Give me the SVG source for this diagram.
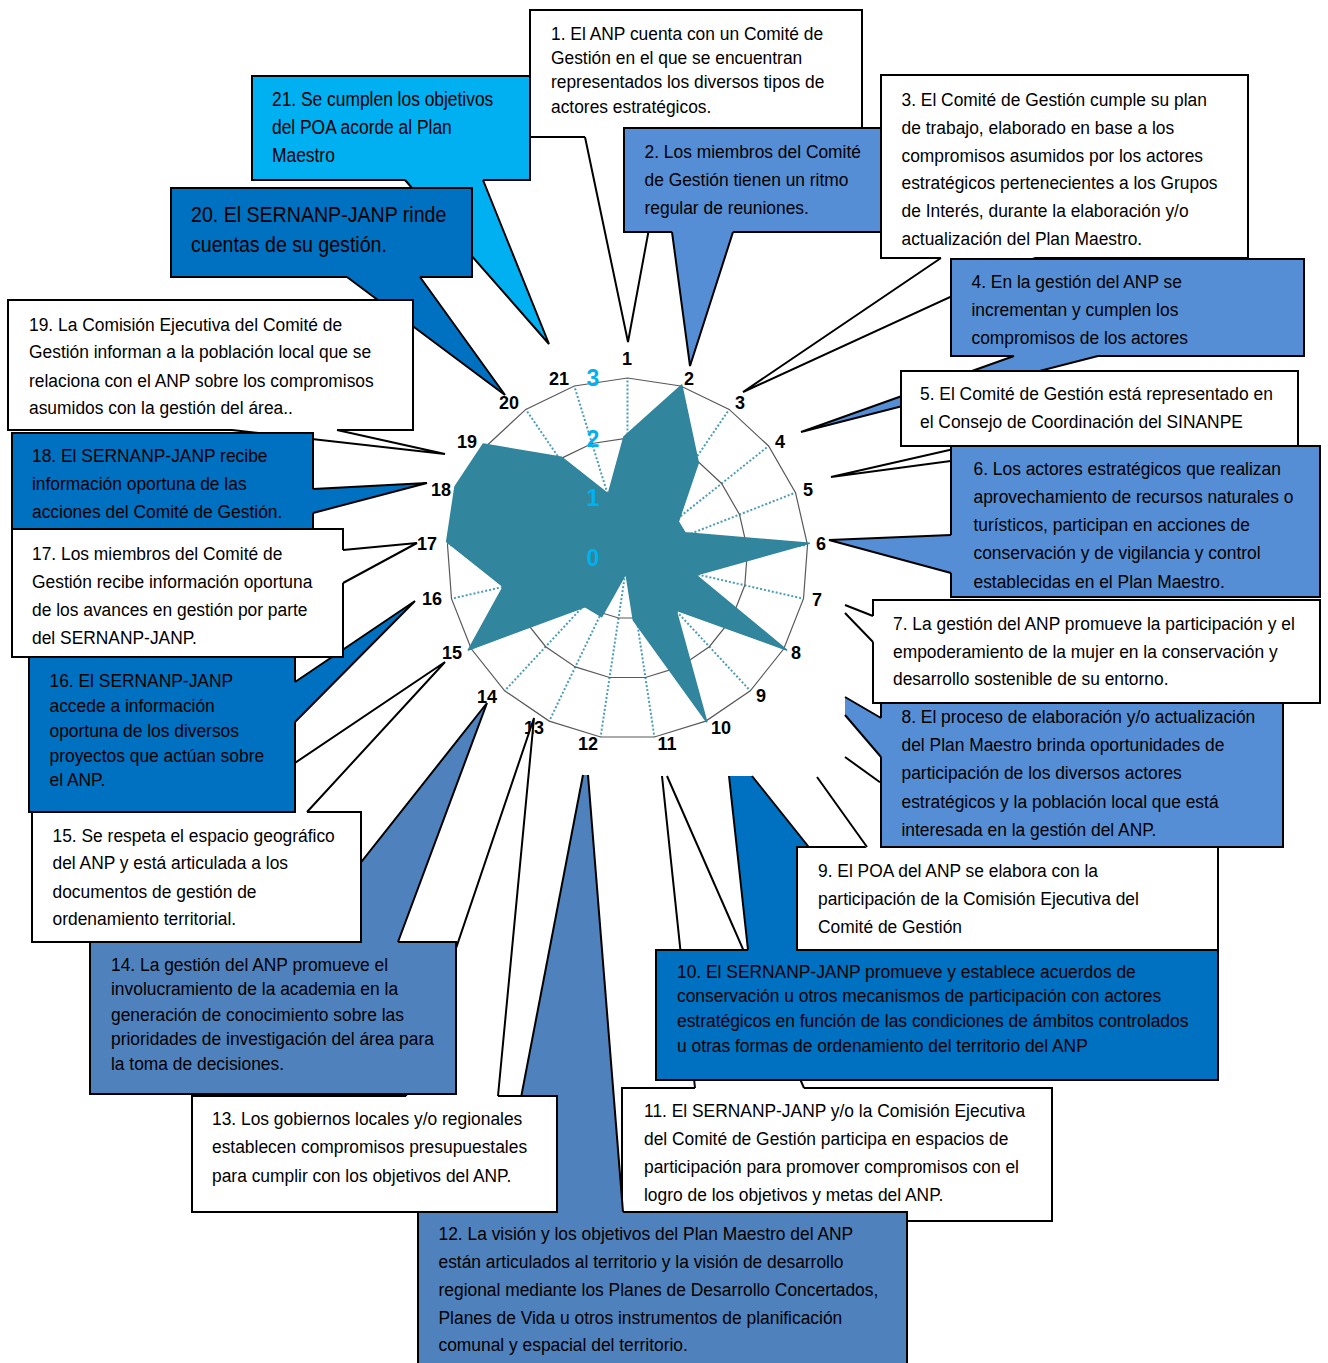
<svg xmlns="http://www.w3.org/2000/svg" width="1328" height="1363" viewBox="0 0 1328 1363">
<style>
.bx{stroke:#000;stroke-width:2}
.wf{stroke:none}
.wl{fill:none;stroke:#000;stroke-width:2}
.w{fill:#fff}.c1{fill:#558ED5}.c2{fill:#0070C0}.c3{fill:#4F81BD}.c4{fill:#00B0F0}
.t{font-family:"Liberation Sans",Arial,sans-serif;font-size:19px;fill:#000}
.al{font-family:"Liberation Sans",Arial,sans-serif;font-size:18px;font-weight:bold;fill:#000;text-anchor:middle}
.vl{font-family:"Liberation Sans",Arial,sans-serif;font-size:23px;font-weight:bold;fill:#00B0F0;text-anchor:middle}
.ring{fill:none;stroke:#595959;stroke-width:1.2}
.spoke{fill:none;stroke:#4A9DB5;stroke-width:2;stroke-dasharray:2 2}
</style>
<rect width="1328" height="1363" fill="#fff"/>
<g id="chart">
<path class="spoke" d="M627.5 558.5L627.5 378M627.5 558.5L680.7 386M627.5 558.5L729.2 409.4M627.5 558.5L768.6 446M627.5 558.5L795.5 492.6M627.5 558.5L807.5 545M627.5 558.5L803.5 598.7M627.5 558.5L783.8 648.8M627.5 558.5L750.3 690.8M627.5 558.5L705.8 721.1M627.5 558.5L654.4 737M627.5 558.5L600.6 737M627.5 558.5L549.2 721.1M627.5 558.5L504.7 690.8M627.5 558.5L471.2 648.8M627.5 558.5L451.5 598.7M627.5 558.5L447.5 545M627.5 558.5L459.5 492.6M627.5 558.5L486.4 446M627.5 558.5L525.8 409.4M627.5 558.5L574.3 386"/>
<polygon class="ring" points="627.5,498.3 645.2,501.0 661.4,508.8 674.5,521.0 683.5,536.5 687.5,554.0 686.2,571.9 679.6,588.6 668.4,602.6 653.6,612.7 636.5,618.0 618.5,618.0 601.4,612.7 586.6,602.6 575.4,588.6 568.8,571.9 567.5,554.0 571.5,536.5 580.5,521.0 593.6,508.8 609.8,501.0"/>
<polygon class="ring" points="627.5,438.2 663.0,443.5 695.3,459.1 721.6,483.5 739.5,514.5 747.5,549.5 744.8,585.3 731.7,618.7 709.3,646.7 679.7,666.9 645.4,677.5 609.6,677.5 575.3,666.9 545.7,646.7 523.3,618.7 510.2,585.3 507.5,549.5 515.5,514.5 533.4,483.5 559.7,459.1 592.0,443.5"/>
<polygon class="ring" points="627.5,378.0 680.7,386.0 729.2,409.4 768.6,446.0 795.5,492.6 807.5,545.0 803.5,598.7 783.8,648.8 750.3,690.8 705.8,721.1 654.4,737.0 600.6,737.0 549.2,721.1 504.7,690.8 471.2,648.8 451.5,598.7 447.5,545.0 459.5,492.6 486.4,446.0 525.8,409.4 574.3,386.0"/>
<polygon fill="#31859C" stroke="#31859C" stroke-width="1.5" stroke-linejoin="round" points="624,436.7 681.7,385 698.3,462.7 678.3,521.7 685,532.7 809.3,543.3 696,575 786.7,650 676,610 706.7,721.7 633.3,620 626,573.3 601.7,616.7 585,606.7 468.3,650 503.3,586.7 446.7,541.7 455,486.7 483.3,444 561.7,457.3 608.3,494"/>
<text class="vl" x="593" y="386">3</text>
<text class="vl" x="593" y="447">2</text>
<text class="vl" x="593" y="506">1</text>
<text class="vl" x="593" y="566">0</text>
<text class="al" x="627" y="365">1</text>
<text class="al" x="689" y="385">2</text>
<text class="al" x="740" y="409">3</text>
<text class="al" x="780" y="448">4</text>
<text class="al" x="808" y="496">5</text>
<text class="al" x="821" y="550">6</text>
<text class="al" x="817" y="606">7</text>
<text class="al" x="796" y="659">8</text>
<text class="al" x="761" y="702">9</text>
<text class="al" x="721" y="734">10</text>
<text class="al" x="667" y="750">11</text>
<text class="al" x="588" y="750">12</text>
<text class="al" x="534" y="734">13</text>
<text class="al" x="487" y="703">14</text>
<text class="al" x="452" y="659">15</text>
<text class="al" x="432" y="605">16</text>
<text class="al" x="427" y="550">17</text>
<text class="al" x="441" y="496">18</text>
<text class="al" x="467" y="448">19</text>
<text class="al" x="509" y="409">20</text>
<text class="al" x="559" y="385">21</text>
</g>
<g id="n21">
<rect class="bx c4" x="252" y="76" width="278" height="104"/>
<polygon class="wf c4" points="405,178 405,180 549,344 483,180 483,178"/>
<polyline class="wl" points="405,180 549,344 483,180"/>
<text class="t" style="font-size:21px" transform="matrix(0.8286 0 0 1 272 0)"><tspan x="0" y="106">21. Se cumplen los objetivos</tspan><tspan x="0" y="134">del POA acorde al Plan</tspan><tspan x="0" y="162">Maestro</tspan></text>
</g>
<g id="n20">
<rect class="bx c2" x="171" y="188" width="301" height="89"/>
<polygon class="wf c2" points="347,275 347,277 505,395 420,277 420,275"/>
<polyline class="wl" points="347,277 505,395 420,277"/>
<text class="t" style="font-size:22.5px" transform="matrix(0.871 0 0 1 191 0)"><tspan x="0" y="222">20. El SERNANP-JANP rinde</tspan><tspan x="0" y="252">cuentas de su gestión.</tspan></text>
</g>
<g id="n19">
<rect class="bx w" x="8" y="300" width="405" height="130"/>
<polygon class="wf w" points="232,428 232,430 445,454 337,430 337,428"/>
<polyline class="wl" points="232,430 445,454 337,430"/>
<text class="t" transform="matrix(0.916 0 0 1 29 0)"><tspan x="0" y="331">19. La Comisión Ejecutiva del Comité de</tspan><tspan x="0" y="358.5">Gestión informan a la población local que se</tspan><tspan x="0" y="387">relaciona con el ANP sobre los compromisos</tspan><tspan x="0" y="414.5">asumidos con la gestión del área..</tspan></text>
</g>
<g id="n18">
<rect class="bx c2" x="12" y="433" width="301" height="96"/>
<polygon class="wf c2" points="311,489 313,489 427,483 313,513 311,513"/>
<polyline class="wl" points="313,489 427,483 313,513"/>
<text class="t" transform="matrix(0.916 0 0 1 32 0)"><tspan x="0" y="462">18. El SERNANP-JANP recibe</tspan><tspan x="0" y="490">información oportuna de las</tspan><tspan x="0" y="518.5">acciones del Comité de Gestión.</tspan></text>
</g>
<g id="n1">
<rect class="bx w" x="530" y="10" width="332" height="127"/>
<polygon class="wf w" points="585,135 585,137 628,342 666,137 666,135"/>
<polyline class="wl" points="585,137 628,342 666,137"/>
<text class="t" style="font-size:18.5px" transform="matrix(0.9405 0 0 1 551 0)"><tspan x="0" y="40">1. El ANP cuenta con un Comité de</tspan><tspan x="0" y="64.5">Gestión en el que se encuentran</tspan><tspan x="0" y="88.5">representados los diversos tipos de</tspan><tspan x="0" y="113">actores estratégicos.</tspan></text>
</g>
<g id="n2">
<rect class="bx c1" x="624" y="128" width="276" height="104"/>
<polygon class="wf c1" points="672,230 672,232 690,366 733,232 733,230"/>
<polyline class="wl" points="672,232 690,366 733,232"/>
<text class="t" transform="matrix(0.916 0 0 1 644.5 0)"><tspan x="0" y="158.5">2. Los miembros del Comité</tspan><tspan x="0" y="186.5">de Gestión tienen un ritmo</tspan><tspan x="0" y="214.5">regular de reuniones.</tspan></text>
</g>
<g id="n3">
<rect class="bx w" x="881" y="75" width="367" height="183"/>
<polygon class="wf w" points="941,256 941,258 743,392 1035,258 1035,256"/>
<polyline class="wl" points="941,258 743,392 1035,258"/>
<text class="t" transform="matrix(0.916 0 0 1 901.5 0)"><tspan x="0" y="106">3. El Comité de Gestión cumple su plan</tspan><tspan x="0" y="134">de trabajo, elaborado en base a los</tspan><tspan x="0" y="162">compromisos asumidos por los actores</tspan><tspan x="0" y="189.5">estratégicos pertenecientes a los Grupos</tspan><tspan x="0" y="217.5">de Interés, durante la elaboración y/o</tspan><tspan x="0" y="245">actualización del Plan Maestro.</tspan></text>
</g>
<g id="n4">
<rect class="bx c1" x="951" y="259" width="353" height="97"/>
<polygon class="wf c1" points="1014,354 1014,356 801,432 1098,356 1098,354"/>
<polyline class="wl" points="1014,356 801,432 1098,356"/>
<text class="t" transform="matrix(0.916 0 0 1 971.5 0)"><tspan x="0" y="288.5">4. En la gestión del ANP se</tspan><tspan x="0" y="316.5">incrementan y cumplen los</tspan><tspan x="0" y="344">compromisos de los actores</tspan></text>
</g>
<g id="n5">
<rect class="bx w" x="901" y="371" width="397" height="75"/>
<polygon class="wf w" points="967,444 967,446 831,477 1063,446 1063,444"/>
<polyline class="wl" points="967,446 831,477 1063,446"/>
<text class="t" transform="matrix(0.916 0 0 1 920 0)"><tspan x="0" y="400">5. El Comité de Gestión está representado en</tspan><tspan x="0" y="428">el Consejo de Coordinación del SINANPE</tspan></text>
</g>
<g id="n6">
<rect class="bx c1" x="951" y="446" width="369" height="151"/>
<polygon class="wf c1" points="953,535 951,535 829,540 951,573 953,573"/>
<polyline class="wl" points="951,535 829,540 951,573"/>
<text class="t" transform="matrix(0.916 0 0 1 973.5 0)"><tspan x="0" y="475">6. Los actores estratégicos que realizan</tspan><tspan x="0" y="503.5">aprovechamiento de recursos naturales o</tspan><tspan x="0" y="531">turísticos, participan en acciones de</tspan><tspan x="0" y="559.5">conservación y de vigilancia y control</tspan><tspan x="0" y="588">establecidas en el Plan Maestro.</tspan></text>
</g>
<g id="n8">
<rect class="bx c1" x="881" y="703" width="402" height="144"/>
<polygon class="wf c1" points="883,718 881,718 845,697 845,715 881,757 883,757"/>
<polyline class="wl" points="881,718 845,697"/>
<polyline class="wl" points="845,715 881,757"/>
<text class="t" transform="matrix(0.916 0 0 1 901.5 0)"><tspan x="0" y="723.5">8. El proceso de elaboración y/o actualización</tspan><tspan x="0" y="751.5">del Plan Maestro brinda oportunidades de</tspan><tspan x="0" y="779.5">participación de los diversos actores</tspan><tspan x="0" y="808">estratégicos y la población local que está</tspan><tspan x="0" y="836">interesada en la gestión del ANP.</tspan></text>
</g>
<g id="n7">
<rect class="bx w" x="873" y="600" width="447" height="103"/>
<polygon class="wf w" points="875,616 873,616 845,605 845,613 873,642 875,642"/>
<polyline class="wl" points="873,616 845,605"/>
<polyline class="wl" points="845,613 873,642"/>
<text class="t" transform="matrix(0.916 0 0 1 893 0)"><tspan x="0" y="630">7. La gestión del ANP promueve la participación y el</tspan><tspan x="0" y="658">empoderamiento de la mujer en la conservación y</tspan><tspan x="0" y="685">desarrollo sostenible de su entorno.</tspan></text>
</g>
<g id="n11">
<rect class="bx w" x="622" y="1088" width="430" height="133"/>
<polygon class="wf w" points="695,1090 695,1088 662,776 667,776 804,1088 804,1090"/>
<polyline class="wl" points="695,1088 662,776"/>
<polyline class="wl" points="667,776 804,1088"/>
<text class="t" transform="matrix(0.916 0 0 1 644 0)"><tspan x="0" y="1117.5">11. El SERNANP-JANP y/o la Comisión Ejecutiva</tspan><tspan x="0" y="1145.5">del Comité de Gestión participa en espacios de</tspan><tspan x="0" y="1173.5">participación para promover compromisos con el</tspan><tspan x="0" y="1201.5">logro de los objetivos y metas del ANP.</tspan></text>
</g>
<g id="n10">
<rect class="bx c2" x="656" y="950" width="562" height="130"/>
<polygon class="wf c2" points="748,952 748,950 729,776 752,776 891,950 891,952"/>
<polyline class="wl" points="748,950 729,776"/>
<polyline class="wl" points="752,776 891,950"/>
<text class="t" transform="matrix(0.916 0 0 1 677 0)"><tspan x="0" y="978">10. El SERNANP-JANP promueve y establece acuerdos de</tspan><tspan x="0" y="1002.5">conservación u otros mecanismos de participación con actores</tspan><tspan x="0" y="1027.5">estratégicos en función de las condiciones de ámbitos controlados</tspan><tspan x="0" y="1052">u otras formas de ordenamiento del territorio del ANP</tspan></text>
</g>
<g id="n9">
<rect class="bx w" x="797" y="847" width="421" height="103"/>
<polygon class="wf w" points="817,777 845,757 880,782.3 880,849 867,849"/>
<polyline class="wl" points="817,777 867,847"/>
<polyline class="wl" points="845,757 880,782.3"/>
<text class="t" transform="matrix(0.916 0 0 1 818 0)"><tspan x="0" y="877.5">9. El POA del ANP se elabora con la</tspan><tspan x="0" y="905.5">participación de la Comisión Ejecutiva del</tspan><tspan x="0" y="933.5">Comité de Gestión</tspan></text>
</g>
<g id="n12">
<rect class="bx c3" x="418" y="1212" width="489" height="160"/>
<polygon class="wf c3" points="499,1214 499,1212 583,775 588,775 623,1212 623,1214"/>
<polyline class="wl" points="499,1212 583,775"/>
<polyline class="wl" points="588,775 623,1212"/>
<text class="t" transform="matrix(0.916 0 0 1 438.5 0)"><tspan x="0" y="1240">12. La visión y los objetivos del Plan Maestro del ANP</tspan><tspan x="0" y="1268">están articulados al territorio y la visión de desarrollo</tspan><tspan x="0" y="1296">regional mediante los Planes de Desarrollo Concertados,</tspan><tspan x="0" y="1324">Planes de Vida u otros instrumentos de planificación</tspan><tspan x="0" y="1351">comunal y espacial del territorio.</tspan></text>
</g>
<g id="n13">
<rect class="bx w" x="192" y="1096" width="365" height="116"/>
<polygon class="wf w" points="406,1098 406,1096 534,718 498,1096 498,1098"/>
<polyline class="wl" points="406,1096 534,718 498,1096"/>
<text class="t" transform="matrix(0.916 0 0 1 212 0)"><tspan x="0" y="1125.5">13. Los gobiernos locales y/o regionales</tspan><tspan x="0" y="1153.5">establecen compromisos presupuestales</tspan><tspan x="0" y="1182.5">para cumplir con los objetivos del ANP.</tspan></text>
</g>
<g id="n14">
<rect class="bx c3" x="90" y="942" width="366" height="152"/>
<polygon class="wf c3" points="298,944 298,942 487,703 398,942 398,944"/>
<polyline class="wl" points="298,942 487,703 398,942"/>
<text class="t" transform="matrix(0.916 0 0 1 111 0)"><tspan x="0" y="971.5">14. La gestión del ANP promueve el</tspan><tspan x="0" y="995.5">involucramiento de la academia en la</tspan><tspan x="0" y="1020.5">generación de conocimiento sobre las</tspan><tspan x="0" y="1045.5">prioridades de investigación del área para</tspan><tspan x="0" y="1070.5">la toma de decisiones.</tspan></text>
</g>
<g id="n15">
<rect class="bx w" x="32" y="812" width="329" height="130"/>
<polygon class="wf w" points="222,814 222,812 445,662 307,812 307,814"/>
<polyline class="wl" points="222,812 445,662 307,812"/>
<text class="t" transform="matrix(0.916 0 0 1 52.5 0)"><tspan x="0" y="842">15. Se respeta el espacio geográfico</tspan><tspan x="0" y="869.5">del ANP y está articulada a los</tspan><tspan x="0" y="898">documentos de gestión de</tspan><tspan x="0" y="925">ordenamiento territorial.</tspan></text>
</g>
<g id="n16">
<rect class="bx c2" x="29" y="657" width="266" height="155"/>
<polygon class="wf c2" points="293,682 295,682 415,601 295,722 293,722"/>
<polyline class="wl" points="295,682 415,601 295,722"/>
<text class="t" transform="matrix(0.916 0 0 1 49.5 0)"><tspan x="0" y="687">16. El SERNANP-JANP</tspan><tspan x="0" y="712">accede a información</tspan><tspan x="0" y="737">oportuna de los diversos</tspan><tspan x="0" y="762">proyectos que actúan sobre</tspan><tspan x="0" y="786">el ANP.</tspan></text>
</g>
<g id="n17">
<rect class="bx w" x="12" y="529" width="331" height="128"/>
<polygon class="wf w" points="341,550 343,550 417,543 343,583 341,583"/>
<polyline class="wl" points="343,550 417,543 343,583"/>
<text class="t" transform="matrix(0.916 0 0 1 32 0)"><tspan x="0" y="560">17. Los miembros del Comité de</tspan><tspan x="0" y="588">Gestión recibe información oportuna</tspan><tspan x="0" y="616">de los avances en gestión por parte</tspan><tspan x="0" y="644">del SERNANP-JANP.</tspan></text>
</g>
<g id="connectors"/>
</svg>
